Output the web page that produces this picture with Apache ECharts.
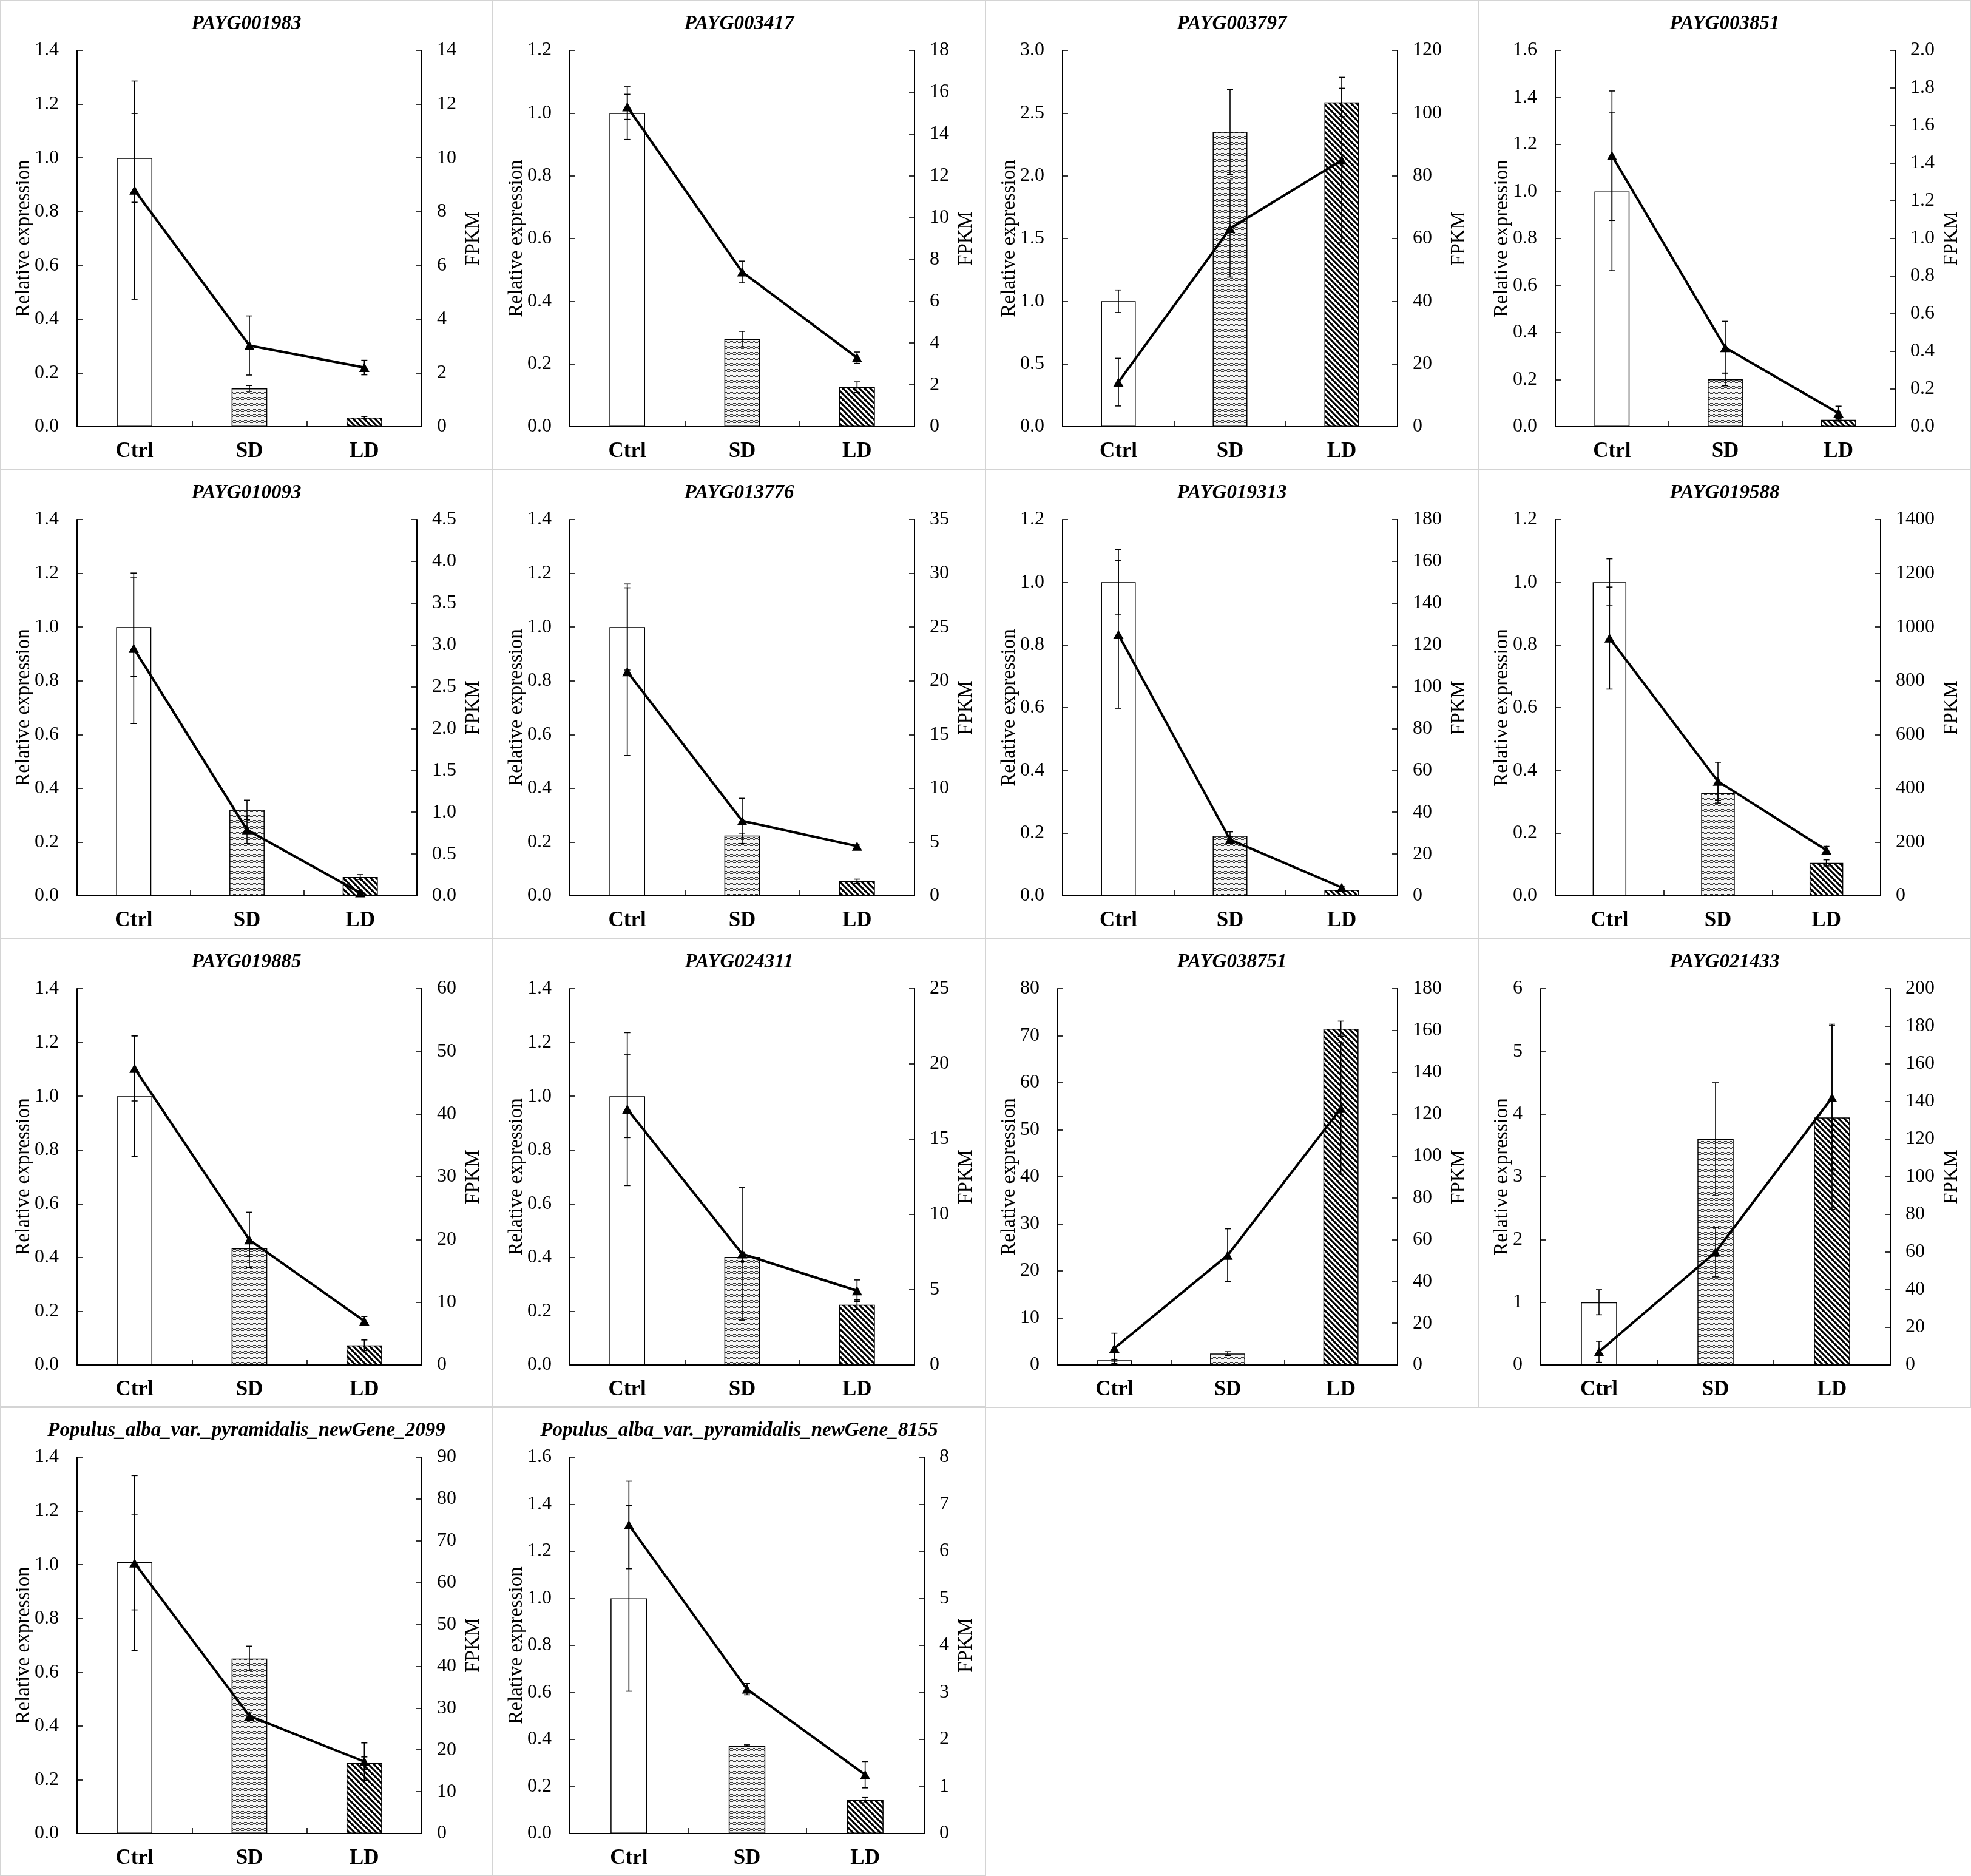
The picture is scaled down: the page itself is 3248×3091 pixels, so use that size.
<!DOCTYPE html>
<html>
<head>
<meta charset="utf-8">
<script src="https://cdn.jsdelivr.net/npm/echarts@6/dist/echarts.min.js"></script>
<style>
html, body { margin: 0; padding: 0; background: #fff; overflow: hidden; }
#page { position: relative; width: 3248px; height: 3091px; }
.panel { position: absolute; }
.frame { position: absolute; box-sizing: border-box; border: 2px solid #d4d4d4; pointer-events: none; }
</style>
</head>
<body>
<div id="page"></div>
<script>
// 数据：每个基因一组（Ctrl, SD, LD）
var genes = ["PAYG001983", "PAYG003417", "PAYG003797", "PAYG003851",
             "PAYG010093", "PAYG013776", "PAYG019313", "PAYG019588",
             "PAYG019885", "PAYG024311", "PAYG038751", "PAYG021433",
             "Populus_alba_var._pyramidalis_newGene_2099",
             "Populus_alba_var._pyramidalis_newGene_8155"];
var categories = ["Ctrl", "SD", "LD"];

// qRT-PCR 相对表达量（柱）
var relExpr = [
    [1.0, 0.142, 0.034], [1.0, 0.279, 0.126], [1.0, 2.35, 2.585], [1.0, 0.201, 0.029],
    [1.0, 0.32, 0.07], [1.0, 0.224, 0.054], [1.0, 0.191, 0.019], [1.0, 0.327, 0.105],
    [1.0, 0.434, 0.073], [1.0, 0.402, 0.224], [1.0, 2.42, 71.5], [1.0, 3.6, 3.945],
    [1.01, 0.651, 0.262], [1.0, 0.373, 0.142]
];
var relErr = [
    [0.165, 0.011, 0.004], [0.084, 0.025, 0.017], [0.09, 0.338, 0.113], [0.337, 0.027, 0.005],
    [0.183, 0.036, 0.009], [0.16, 0.009, 0.008], [0.104, 0.013, 0.003], [0.075, 0.031, 0.01],
    [0.224, 0.03, 0.02], [0.154, 0.017, 0.018], [0.2, 0.4, 1.6], [0.2, 0.9, 1.465],
    [0.178, 0.046, 0.023], [0.395, 0.004, 0.011]
];

// 转录组 FPKM（折线）
var fpkm = [
    [8.8, 3.02, 2.2], [15.3, 7.4, 3.3], [14.2, 63.2, 85.0], [1.44, 0.42, 0.072],
    [2.96, 0.79, 0.036], [20.85, 6.97, 4.62], [125, 26.9, 4.0], [959, 426, 170],
    [47.3, 19.95, 7.0], [17.0, 7.38, 4.93], [8.0, 52.5, 122.7], [7.0, 60.0, 142.1],
    [64.7, 28.1, 17.2], [6.56, 3.07, 1.25]
];
var fpkmErr = [
    [4.06, 1.1, 0.27], [0.6, 0.52, 0.27], [7.6, 15.5, 26.4], [0.344, 0.14, 0.037],
    [0.9, 0.164, 0.01], [7.8, 2.1, 0.1], [35.3, 1.5, 0.7], [190, 71, 14],
    [5.2, 4.4, 0.72], [5.08, 4.4, 0.72], [7.2, 12.65, 31.4], [5.6, 13.2, 39],
    [20.9, 0.97, 4.47], [0.93, 0.12, 0.28]
];

// 坐标轴刻度
var relMax   = [1.4, 1.2, 3.0, 1.6, 1.4, 1.4, 1.2, 1.2, 1.4, 1.4, 80, 6, 1.4, 1.6];
var relStep  = [0.2, 0.2, 0.5, 0.2, 0.2, 0.2, 0.2, 0.2, 0.2, 0.2, 10, 1, 0.2, 0.2];
var fpkmMax  = [14, 18, 120, 2.0, 4.5, 35, 180, 1400, 60, 25, 180, 200, 90, 8];
var fpkmStep = [2, 2, 20, 0.2, 0.5, 5, 20, 200, 10, 5, 20, 20, 10, 1];

var FONT = '"Liberation Serif", "Times New Roman", serif';
var PW = 812, PH = 3091 / 4;

var measureCtx = document.createElement('canvas').getContext('2d');
measureCtx.font = '32px "Liberation Serif"';
function maxLabelWidth(max, step, dec) {
    var w = 0;
    for (var v = 0; v <= max + 1e-9; v += step) {
        w = Math.max(w, measureCtx.measureText(v.toFixed(dec)).width);
    }
    return w;
}

function dotPattern() {
    var c = document.createElement('canvas');
    c.width = 4; c.height = 4;
    var g = c.getContext('2d');
    g.fillStyle = '#f4f4f4';
    g.fillRect(0, 0, 4, 4);
    g.fillStyle = '#3c3c3c';
    [[0, 0], [2, 0], [1, 2], [3, 2]].forEach(function (p) { g.fillRect(p[0], p[1], 1, 1); });
    return c;
}
function hatchPattern() {
    var s = 9;
    var c = document.createElement('canvas');
    c.width = s; c.height = s;
    var g = c.getContext('2d');
    g.fillStyle = '#fff';
    g.fillRect(0, 0, s, s);
    g.strokeStyle = '#000';
    g.lineWidth = 3.2;
    for (var k = -1; k <= 1; k++) {
        g.beginPath();
        g.moveTo(k * s - 1, -1);
        g.lineTo(k * s + s + 1, s + 1);
        g.stroke();
    }
    return c;
}
var fills = ['#fff', { image: dotPattern(), repeat: 'repeat' }, { image: hatchPattern(), repeat: 'repeat' }];

function errBar(params, api) {
    var x = api.value(0), v = api.value(1), e = api.value(2);
    var top = api.coord([x, v + e]);
    var bot = api.coord([x, v - e]);
    var style = { stroke: '#000', lineWidth: 1.6 };
    return {
        type: 'group',
        children: [
            { type: 'line', shape: { x1: top[0], y1: top[1], x2: bot[0], y2: bot[1] }, style: style },
            { type: 'line', shape: { x1: top[0] - 5, y1: top[1], x2: top[0] + 5, y2: top[1] }, style: style },
            { type: 'line', shape: { x1: bot[0] - 5, y1: bot[1], x2: bot[0] + 5, y2: bot[1] }, style: style }
        ]
    };
}

var page = document.getElementById('page');
genes.forEach(function (name, i) {
    var col = i % 4, row = Math.floor(i / 4);
    var x0 = col * PW, y0 = Math.round(row * PH);

    var div = document.createElement('div');
    div.className = 'panel';
    div.style.left = x0 + 'px';
    div.style.top = y0 + 'px';
    div.style.width = PW + 'px';
    div.style.height = '773px';
    page.appendChild(div);

    var frame = document.createElement('div');
    frame.className = 'frame';
    frame.style.left = (x0 - 1) + 'px';
    frame.style.top = (y0 - 1) + 'px';
    frame.style.width = (PW + 2) + 'px';
    frame.style.height = '775px';
    page.appendChild(frame);

    var decL = relStep[i] < 1 ? 1 : 0;
    var decR = fpkmStep[i] < 1 ? 1 : 0;
    var axisLeft = Math.round(57 + maxLabelWidth(relMax[i], relStep[i], decL) + 30);
    var axisRight = Math.round(752 - maxLabelWidth(fpkmMax[i], fpkmStep[i], decR) - 25);

    var axisLine = { show: true, lineStyle: { color: '#000', width: 2 } };
    var axisTick = { show: true, inside: true, length: 9, lineStyle: { color: '#000', width: 1.6 } };
    var tickLabel = { color: '#000', fontFamily: FONT, fontSize: 32 };

    var chart = echarts.init(div);
    var option = {
        animation: false,
        title: {
            text: name,
            left: 'center',
            top: 18,
            textStyle: { color: '#000', fontFamily: FONT, fontSize: 33, fontWeight: 'bold', fontStyle: 'italic' }
        },
        grid: { left: axisLeft, right: PW - axisRight, top: 83, bottom: 70 },
        xAxis: {
            type: 'category',
            data: categories,
            axisLine: axisLine,
            axisTick: axisTick,
            axisLabel: { color: '#000', fontFamily: FONT, fontSize: 35, fontWeight: 'bold', margin: 23 },
            splitLine: { show: false }
        },
        yAxis: [
            {
                type: 'value',
                position: 'left',
                min: 0,
                max: relMax[i],
                interval: relStep[i],
                name: 'Relative expression',
                nameLocation: 'middle',
                nameRotate: 90,
                nameGap: axisLeft - 56,
                nameMoveOverlap: false,
                nameTextStyle: { color: '#000', fontFamily: FONT, fontSize: 33 },
                axisLine: axisLine,
                axisTick: axisTick,
                axisLabel: Object.assign({ margin: 30, formatter: function (v) { return v.toFixed(decL); } }, tickLabel),
                splitLine: { show: false }
            },
            {
                type: 'value',
                position: 'right',
                min: 0,
                max: fpkmMax[i],
                interval: fpkmStep[i],
                name: 'FPKM',
                nameLocation: 'middle',
                nameRotate: 90,
                nameGap: 764 - axisRight,
                nameMoveOverlap: false,
                nameTextStyle: { color: '#000', fontFamily: FONT, fontSize: 33 },
                axisLine: axisLine,
                axisTick: axisTick,
                axisLabel: Object.assign({ margin: 25, formatter: function (v) { return v.toFixed(decR); } }, tickLabel),
                splitLine: { show: false }
            }
        ],
        series: [
            {
                type: 'bar',
                yAxisIndex: 0,
                barWidth: '31%',
                z: 2,
                data: relExpr[i].map(function (v, j) {
                    return { value: v, itemStyle: { color: fills[j], borderColor: '#000', borderWidth: 1.5 } };
                })
            },
            {
                type: 'custom',
                yAxisIndex: 0,
                z: 3,
                renderItem: errBar,
                data: relExpr[i].map(function (v, j) { return [j, v, relErr[i][j]]; })
            },
            {
                type: 'custom',
                yAxisIndex: 1,
                z: 3,
                renderItem: errBar,
                data: fpkm[i].map(function (v, j) { return [j, v, fpkmErr[i][j]]; })
            },
            {
                type: 'line',
                yAxisIndex: 1,
                z: 4,
                data: fpkm[i],
                symbol: 'triangle',
                symbolSize: [17, 15],
                lineStyle: { color: '#000', width: 4 },
                itemStyle: { color: '#000' }
            }
        ]
    };
    chart.setOption(option);
});
</script>
</body>
</html>
